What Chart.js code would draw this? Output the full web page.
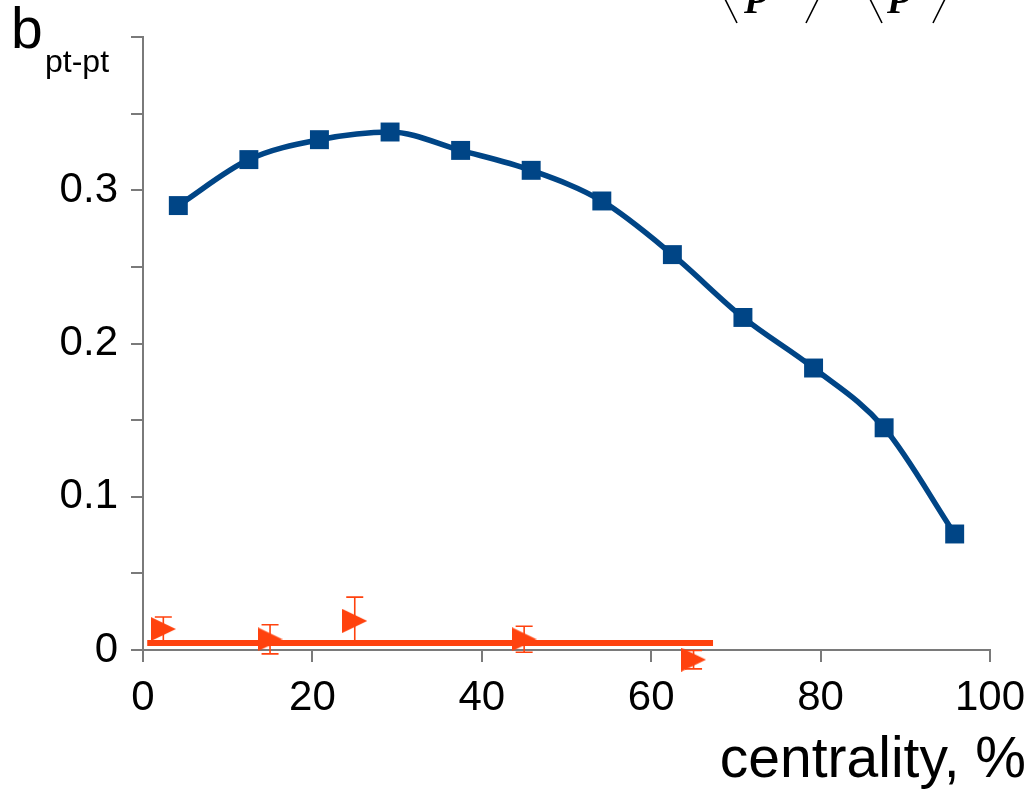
<!DOCTYPE html>
<html>
<head>
<meta charset="utf-8">
<title>b pt-pt vs centrality</title>
<script src="https://cdn.jsdelivr.net/npm/chart.js@4/dist/chart.umd.min.js"></script>
<style>
  html, body { margin: 0; padding: 0; background: #ffffff; }
  #wrap { position: relative; width: 1030px; height: 789px; }
</style>
</head>
<body>
<div id="wrap"><canvas id="chart"></canvas></div>
<script>
// Centrality bins (%), bin centres
const centrality = [4.17, 12.5, 20.83, 29.17, 37.5, 45.83, 54.17, 62.5, 70.83, 79.17, 87.5, 95.83];
// Forward-backward pt-pt correlation coefficient per bin
const bPtPt = [0.290, 0.320, 0.333, 0.338, 0.326, 0.313, 0.293, 0.258, 0.217, 0.184, 0.145, 0.0757];

// Reference (mixed-event) points with statistical errors
const refCentrality = [2.4, 15, 25, 45, 65];
const refValues = [0.0137, 0.007, 0.019, 0.007, -0.0063];
const refErrors = [0.0078, 0.0095, 0.0155, 0.0085, 0.006];

// Constant fit to the reference points
const fitX = [0.5, 67.3];
const fitY = [0.0046, 0.0046];

// Axis tick labels
const xTickLabels = ['0', '20', '40', '60', '80', '100'];
const yTickLabels = ['0', '0.1', '0.2', '0.3'];

const BLUE = '#004586';
const ORANGE = '#ff420e';
const AXIS = '#7a7a7a';

Chart.defaults.font.family = '"Liberation Sans", Arial, sans-serif';
Chart.defaults.color = '#000';

// Right-pointing triangle marker
function makeTriangle(w, h, color) {
  const c = document.createElement('canvas');
  c.width = w; c.height = h;
  const g = c.getContext('2d');
  g.fillStyle = color;
  g.beginPath();
  g.moveTo(0, 0);
  g.lineTo(w, h / 2);
  g.lineTo(0, h);
  g.closePath();
  g.fill();
  return c;
}
const triangle = makeTriangle(25, 24, ORANGE);

// Vertical error bars with caps for the reference points
const errorBars = {
  id: 'errorBars',
  beforeDatasetsDraw(chart) {
    const { ctx, scales: { x, y } } = chart;
    ctx.save();
    ctx.strokeStyle = ORANGE;
    ctx.lineWidth = 1.6;
    refCentrality.forEach((c, i) => {
      const px = x.getPixelForValue(c);
      const top = y.getPixelForValue(refValues[i] + refErrors[i]);
      const bot = y.getPixelForValue(refValues[i] - refErrors[i]);
      ctx.beginPath();
      ctx.moveTo(px, top); ctx.lineTo(px, bot);
      ctx.moveTo(px - 8.5, top); ctx.lineTo(px + 8.5, top);
      ctx.moveTo(px - 8.5, bot); ctx.lineTo(px + 8.5, bot);
      ctx.stroke();
    });
    ctx.restore();
  }
};

// Axis names and the header formula fragment
const annotations = {
  id: 'annotations',
  afterDraw(chart) {
    const ctx = chart.ctx;
    ctx.save();
    ctx.fillStyle = '#000';
    ctx.textBaseline = 'alphabetic';
    ctx.textAlign = 'left';
    ctx.font = '57px "Liberation Sans", Arial, sans-serif';
    ctx.fillText('b', 11, 48);
    ctx.font = '32px "Liberation Sans", Arial, sans-serif';
    ctx.fillText('pt-pt', 45, 72);

    ctx.textAlign = 'right';
    ctx.font = '57px "Liberation Sans", Arial, sans-serif';
    ctx.fillText('centrality, %', 1026, 777);

    // <P^2> - <P>^2 (upper part runs off the top edge)
    ctx.textAlign = 'left';
    ctx.font = 'bold italic 38px "Liberation Serif", "Times New Roman", serif';
    ctx.fillText('P', 744, 13);
    ctx.fillText('P', 887, 13);
    ctx.strokeStyle = '#000';
    ctx.lineWidth = 1.6;
    ctx.beginPath();
    ctx.moveTo(725, -1); ctx.lineTo(737, 23);
    ctx.moveTo(818, -1); ctx.lineTo(806, 23);
    ctx.moveTo(870, -1); ctx.lineTo(882, 23);
    ctx.moveTo(945, -1); ctx.lineTo(933, 23);
    ctx.stroke();
    ctx.restore();
  }
};

new Chart(document.getElementById('chart'), {
  type: 'scatter',
  data: {
    datasets: [
      {
        label: 'b pt-pt',
        data: centrality.map((c, i) => ({ x: c, y: bPtPt[i] })),
        showLine: true,
        cubicInterpolationMode: 'monotone',
        borderColor: BLUE,
        borderWidth: 5.5,
        pointStyle: 'rect',
        pointRadius: 13.4,
        pointBackgroundColor: BLUE,
        pointBorderWidth: 0,
        clip: false
      },
      {
        label: 'fit',
        data: fitX.map((c, i) => ({ x: c, y: fitY[i] })),
        showLine: true,
        borderColor: ORANGE,
        borderWidth: 6,
        borderCapStyle: 'butt',
        pointRadius: 0,
        clip: false
      },
      {
        label: 'reference',
        data: refCentrality.map((c, i) => ({ x: c, y: refValues[i] })),
        showLine: false,
        pointStyle: triangle,
        pointRadius: 12,
        clip: false
      }
    ]
  },
  options: {
    responsive: true,
    maintainAspectRatio: false,
    animation: false,
    layout: { padding: { top: 37, right: 40, left: 0, bottom: 0 } },
    plugins: { legend: { display: false }, tooltip: { enabled: false } },
    scales: {
      x: {
        type: 'linear',
        min: 0, max: 100,
        afterFit(scale) {
          scale.height = 139;
          scale.paddingLeft = 0;
          scale.paddingRight = 0;
        },
        border: { display: true, color: AXIS, width: 2 },
        grid: { drawOnChartArea: false, drawTicks: true, tickLength: 12, color: AXIS, lineWidth: 2 },
        ticks: {
          stepSize: 20,
          padding: 11,
          maxRotation: 0,
          font: { size: 42 },
          color: '#000',
          callback: (v) => xTickLabels[Math.round(v / 20)] ?? ''
        }
      },
      y: {
        type: 'linear',
        min: 0, max: 0.4,
        afterFit(scale) {
          scale.width = 143;
          scale.paddingTop = 0;
          scale.paddingBottom = 0;
        },
        border: { display: true, color: AXIS, width: 2 },
        grid: { drawOnChartArea: false, drawTicks: true, tickLength: 12, color: AXIS, lineWidth: 2 },
        ticks: {
          stepSize: 0.05,
          autoSkip: false,
          padding: 13,
          font: { size: 42 },
          color: '#000',
          callback: (v) => {
            const k = Math.round(v * 20);
            return (k % 2 === 0 && yTickLabels[k / 2] !== undefined) ? yTickLabels[k / 2] : '';
          }
        }
      }
    }
  },
  plugins: [errorBars, annotations]
});
</script>
</body>
</html>
